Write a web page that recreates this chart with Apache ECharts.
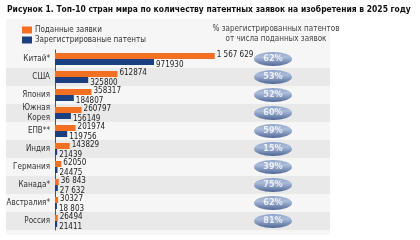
<!DOCTYPE html>
<html>
<head>
<meta charset="utf-8">
<script src="https://cdn.jsdelivr.net/npm/echarts@6/dist/echarts.min.js"></script>
<style>
  html, body { margin: 0; padding: 0; background: #fff; }
  #chart { width: 420px; height: 240px; }
</style>
</head>
<body>
<div id="chart"></div>
<script>
// данные
const countries = ['Китай*', 'США', 'Япония', 'Южная\nКорея', 'ЕПВ**', 'Индия', 'Германия', 'Канада*', 'Австралия*', 'Россия'];
const filed = [1567629, 612874, 358317, 260797, 201974, 143829, 62050, 36843, 30327, 26494];
const granted = [971930, 325800, 184807, 156149, 119756, 21439, 24475, 27632, 18803, 21411];
const filedLabels = ['1 567 629', '612874', '358317', '260797', '201974', '143829', '62050', '36 843', '30327', '26494'];
const grantedLabels = ['971930', '325800', '184807', '156149', '119756', '21439', '24475', '27 632', '18 803', '21411'];
const shares = [62, 53, 52, 60, 59, 15, 39, 75, 62, 81];

const font = '"DejaVu Sans Condensed", "DejaVu Sans", sans-serif';
const orange = '#f36f21';
const blue = '#1c3f80';

const chart = echarts.init(document.getElementById('chart'));

const option = {
  animation: false,
  backgroundColor: '#fff',
  textStyle: { fontFamily: font },
  graphic: [{
    type: 'rect', z: -10,
    shape: { x: 6, y: 19, width: 324, height: 216 },
    style: { fill: '#f6f6f6' }
  }],
  title: [
    {
      text: 'Рисунок 1. Топ-10 стран мира по количеству патентных заявок на изобретения в 2025 году',
      left: 2, top: 1,
      textStyle: { fontSize: 8.45, fontWeight: 'bold', color: '#111', fontFamily: font }
    },
    {
      text: '% зарегистрированных патентов\nот числа поданных заявок',
      left: 271, top: 19, textAlign: 'center',
      textStyle: { fontSize: 8, fontWeight: 'normal', color: '#444', lineHeight: 10, fontFamily: font }
    }
  ],
  legend: {
    orient: 'vertical', left: 17, top: 21,
    itemWidth: 10, itemHeight: 7, itemGap: 2,
    icon: 'rect',
    textStyle: { fontSize: 8, color: '#333', padding: [0, 0, 0, -2] },
    data: ['Поданные заявки', 'Зарегистрированые патенты']
  },
  grid: [
    { left: 6, top: 50, width: 324, height: 180 },
    { left: 55, top: 50, width: 162, height: 180 },
    { left: 254, top: 50, width: 38, height: 180 }
  ],
  xAxis: [
    { gridIndex: 0, type: 'value', show: false, min: 0, max: 1 },
    { gridIndex: 1, type: 'value', show: false, min: 0, max: 1590000 },
    { gridIndex: 2, type: 'value', show: false, min: 0, max: 1 }
  ],
  yAxis: [
    {
      gridIndex: 0, type: 'category', data: countries, inverse: true,
      axisLine: { show: false }, axisTick: { show: false }, axisLabel: { show: false },
      splitArea: { show: true, areaStyle: { color: ['#f6f6f6', '#e9e9e9'] } }
    },
    {
      gridIndex: 1, type: 'category', data: countries, inverse: true,
      axisLine: { show: true, lineStyle: { color: '#555', width: 1 } },
      axisTick: { show: false },
      axisLabel: { fontSize: 8, color: '#333', margin: 5, lineHeight: 10 }
    },
    {
      gridIndex: 2, type: 'category', data: countries, inverse: true, show: false
    }
  ],
  series: [
    {
      name: 'Поданные заявки', type: 'bar', xAxisIndex: 1, yAxisIndex: 1,
      data: filed, barWidth: 6, barGap: '0%',
      itemStyle: { color: orange },
      label: {
        show: true, position: 'right', distance: 2, offset: [0, -1],
        fontSize: 8, color: '#222',
        formatter: p => filedLabels[p.dataIndex]
      }
    },
    {
      name: 'Зарегистрированые патенты', type: 'bar', xAxisIndex: 1, yAxisIndex: 1,
      data: granted, barWidth: 6, barGap: '0%',
      itemStyle: { color: blue },
      label: {
        show: true, position: 'right', distance: 2, offset: [0, 3],
        fontSize: 8, color: '#222',
        formatter: p => grantedLabels[p.dataIndex]
      }
    },
    {
      type: 'scatter', xAxisIndex: 2, yAxisIndex: 2,
      data: shares.map((s, i) => [0.5, i, s]),
      symbol: 'circle', symbolSize: [38, 14],
      itemStyle: {
        color: new echarts.graphic.LinearGradient(0, 0, 0, 1, [
          { offset: 0, color: '#7590c0' },
          { offset: 0.35, color: '#9cb1d6' },
          { offset: 1, color: '#27457f' }
        ])
      },
      label: {
        show: true, position: 'inside', fontSize: 9, fontWeight: 'bold', color: '#fff',
        formatter: p => p.value[2] + '%'
      }
    }
  ]
};

chart.setOption(option);
</script>
</body>
</html>
